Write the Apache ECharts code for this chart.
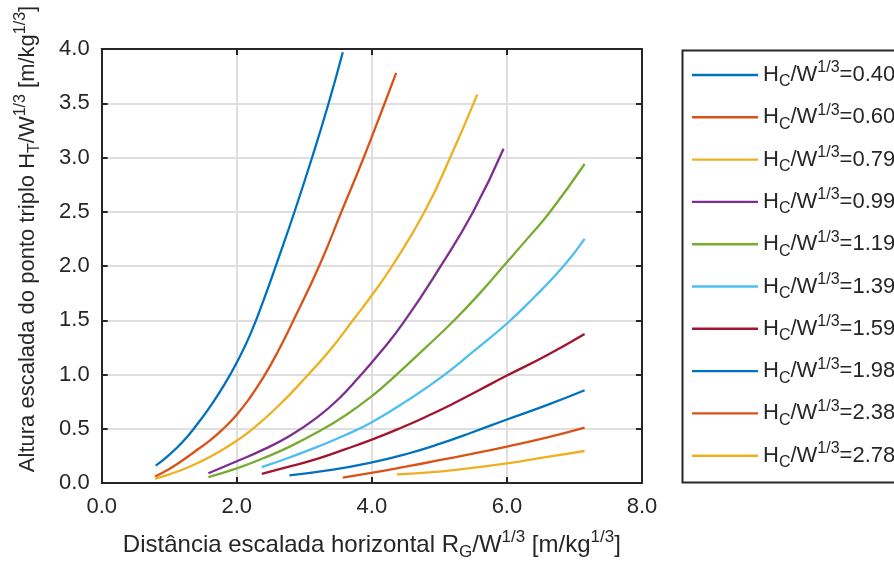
<!DOCTYPE html>
<html>
<head>
<meta charset="utf-8">
<script src="https://cdn.jsdelivr.net/npm/echarts@6/dist/echarts.min.js"></script>
<style>
html,body{margin:0;padding:0;background:#fff;}
#chart{width:894px;height:566px;}
</style>
</head>
<body>
<div id="chart"></div>
<script>
// ---- data ----
const hcValues = ['0.40','0.60','0.79','0.99','1.19','1.39','1.59','1.98','2.38','2.78'];
const xTicks = [0, 2, 4, 6, 8];
const yTicks = [0, 0.5, 1, 1.5, 2, 2.5, 3, 3.5, 4];

const rg040 = [0.80, 1.00, 1.20, 1.40, 1.60, 1.80, 2.00, 2.20, 2.40, 2.60, 2.855, 3.115, 3.36, 3.57];
const ht040 = [0.16, 0.26, 0.38, 0.53, 0.70, 0.89, 1.11, 1.37, 1.69, 2.04, 2.50, 3.00, 3.50, 3.97];

const rg060 = [0.79, 1.00, 1.20, 1.40, 1.60, 1.80, 2.00, 2.20, 2.40, 2.60, 2.84, 3.22, 3.55, 3.88, 4.19, 4.36];
const ht060 = [0.06, 0.13, 0.21, 0.30, 0.39, 0.50, 0.63, 0.79, 0.98, 1.20, 1.50, 2.00, 2.50, 3.00, 3.50, 3.78];

const rg079 = [0.79, 1.00, 1.30, 1.60, 1.90, 2.20, 2.60, 3.06, 3.40, 3.72, 4.00, 4.30, 4.78, 5.16, 5.56];
const ht079 = [0.04, 0.08, 0.15, 0.24, 0.35, 0.48, 0.70, 1.00, 1.24, 1.50, 1.73, 2.00, 2.50, 3.00, 3.58];

const rg099 = [1.58, 2.00, 2.40, 2.80, 3.20, 3.50, 3.80, 4.12, 4.47, 5.00, 5.50, 5.95];
const ht099 = [0.09, 0.20, 0.31, 0.44, 0.61, 0.77, 0.97, 1.20, 1.48, 1.98, 2.50, 3.08];

const rg119 = [1.58, 2.00, 2.40, 2.80, 3.20, 3.60, 4.00, 4.35, 4.80, 5.22, 5.60, 5.95, 6.30, 6.64, 7.15];
const ht119 = [0.055, 0.135, 0.23, 0.34, 0.47, 0.62, 0.80, 0.99, 1.25, 1.50, 1.75, 2.00, 2.25, 2.50, 2.94];

const rg139 = [2.37, 2.80, 3.20, 3.60, 4.00, 4.50, 5.06, 5.50, 6.00, 6.40, 6.84, 7.15];
const ht139 = [0.146, 0.24, 0.335, 0.44, 0.56, 0.75, 0.99, 1.21, 1.47, 1.71, 2.00, 2.25];

const rg159 = [2.37, 2.80, 3.20, 3.60, 4.00, 4.40, 4.80, 5.20, 5.60, 6.00, 6.60, 7.15];
const ht159 = [0.085, 0.155, 0.225, 0.31, 0.40, 0.50, 0.61, 0.73, 0.86, 0.99, 1.18, 1.373];

const rg198 = [2.78, 3.40, 3.97, 4.50, 5.00, 5.50, 6.00, 6.60, 7.15];
const ht198 = [0.07, 0.12, 0.185, 0.265, 0.36, 0.47, 0.585, 0.72, 0.855];

const rg238 = [3.57, 3.97, 4.50, 5.00, 5.50, 6.00, 6.60, 7.15];
const ht238 = [0.05, 0.09, 0.15, 0.21, 0.27, 0.335, 0.42, 0.51];

const rg278 = [4.37, 4.80, 5.30, 6.00, 6.60, 7.15];
const ht278 = [0.08, 0.095, 0.125, 0.18, 0.24, 0.295];

const rgList = [rg040, rg060, rg079, rg099, rg119, rg139, rg159, rg198, rg238, rg278];
const htList = [ht040, ht060, ht079, ht099, ht119, ht139, ht159, ht198, ht238, ht278];
const colors = ['#0072BD','#D95319','#EDB120','#7E2F8E','#77AC30','#4DBEEE','#A2142F','#0072BD','#D95319','#EDB120'];

const FONT = '"Liberation Sans", Arial, Helvetica, sans-serif';
const TXT = '#262626';

const chart = echarts.init(document.getElementById('chart'), null, {renderer: 'canvas'});

const series = hcValues.map((h, i) => ({
  name: 'H' + h,
  type: 'line',
  data: rgList[i].map((x, k) => [x, htList[i][k]]),
  smooth: 0.5,
  showSymbol: false,
  symbol: 'none',
  lineStyle: {color: colors[i], width: 2.3},
  itemStyle: {color: colors[i]},
  emphasis: {disabled: true},
  z: 3
}));

function richSet(fs, lh, small) {
  return {
    a: {fontSize: fs, lineHeight: lh, fontFamily: FONT, color: TXT},
    sub: {fontSize: small, lineHeight: small, fontFamily: FONT, color: TXT, verticalAlign: 'bottom'},
    sup: {fontSize: small, lineHeight: small, fontFamily: FONT, color: TXT, verticalAlign: 'top'}
  };
}

const axisCommon = {
  axisLine: {show: true, onZero: false, lineStyle: {color: TXT, width: 2}},
  axisTick: {show: true, inside: true, length: 6, lineStyle: {color: TXT, width: 2}}
};

const option = {
  backgroundColor: '#ffffff',
  animation: false,
  color: colors,
  grid: {left: 101.7, right: 252, top: 49, bottom: 80, containLabel: false},
  xAxis: [Object.assign({
    type: 'value', min: 0, max: 8, interval: 2, position: 'bottom',
    axisLabel: {show: true, margin: 13, fontSize: 22, fontFamily: FONT, color: TXT,
      formatter: v => xTicks.includes(v) ? v.toFixed(1) : ''},
    splitLine: {show: true, lineStyle: {color: '#DFDFDF', width: 2}},
    name: '{a|Distância escalada horizontal R}{sub|G}{a|/W}{sup|1/3}{a| [m/kg}{sup|1/3}{a|]}',
    nameLocation: 'middle', nameGap: 46,
    nameTextStyle: {rich: richSet(24, 32, 17)}
  }, axisCommon), Object.assign({
    type: 'value', min: 0, max: 8, interval: 2, position: 'top',
    axisLabel: {show: false}, splitLine: {show: false}
  }, axisCommon)],
  yAxis: [Object.assign({
    type: 'value', min: 0, max: 4, interval: 0.5, position: 'left',
    axisLabel: {show: true, margin: 12, fontSize: 22, fontFamily: FONT, color: TXT,
      formatter: v => yTicks.includes(v) ? v.toFixed(1) : ''},
    splitLine: {show: true, lineStyle: {color: '#DFDFDF', width: 2}},
    name: '{a|Altura escalada do ponto triplo H}{sub|T}{a|/W}{sup|1/3}{a| [m/kg}{sup|1/3}{a|]}',
    nameLocation: 'middle', nameGap: 59, nameRotate: 90,
    nameTextStyle: {rich: richSet(22, 30, 16), padding: [0, 0, 0, 54]}
  }, axisCommon), Object.assign({
    type: 'value', min: 0, max: 4, interval: 0.5, position: 'right',
    axisLabel: {show: false}, splitLine: {show: false}
  }, axisCommon)],
  legend: {
    orient: 'vertical', left: 692, top: 60,
    itemWidth: 66, itemHeight: 14, itemGap: 12.3,
    padding: 0,
    icon: 'path://M0,6 L66,6 L66,8.4 L0,8.4 Z',
    data: hcValues.map(h => 'H' + h),
    formatter: name => '{a|H}{sub|C}{a|/W}{sup|1/3}{a|=' + name.slice(1) + '}',
    textStyle: {rich: richSet(22, 30, 16)},
    itemStyle: {borderWidth: 0}
  },
  graphic: [{
    type: 'rect', left: 680, top: 48, z: 100, silent: true,
    shape: {width: 213, height: 432},
    style: {fill: 'none', stroke: TXT, lineWidth: 2}
  }],
  series: series
};
chart.setOption(option);
</script>
</body>
</html>
